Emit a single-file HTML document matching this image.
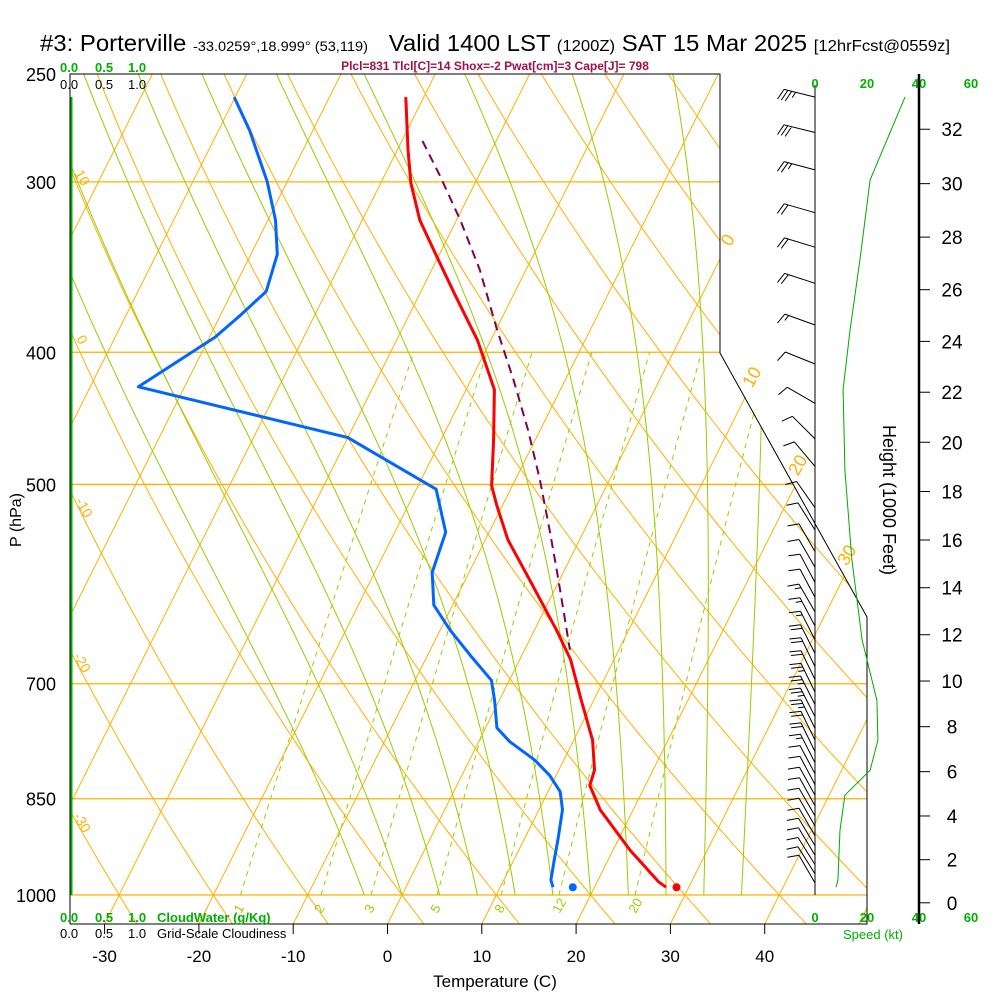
<!DOCTYPE html>
<html><head><meta charset="utf-8">
<style>
html,body{margin:0;padding:0;background:#fff;}
svg{display:block;font-family:"Liberation Sans",Arial,sans-serif;}
</style></head>
<body>
<svg id="chart" width="1000" height="1000" viewBox="0 0 1000 1000" xmlns="http://www.w3.org/2000/svg">
<defs>
<clipPath id="plotclip"><polygon points="70,74 720,74 720,353 867,617 867,924 70,924"/></clipPath>
</defs>
<g>
<text x="40" y="51" font-size="23" fill="#000" textLength="910" lengthAdjust="spacingAndGlyphs">#3: Porterville <tspan font-size="14">-33.0259°,18.999° (53,119)</tspan><tspan dx="20">Valid 1400 LST</tspan> <tspan font-size="16">(1200Z)</tspan> SAT 15 Mar 2025 <tspan font-size="16">[12hrFcst@0559z]</tspan></text>
</g>
<text x="495" y="70" font-size="12" font-weight="bold" fill="#a0104a" text-anchor="middle">Plcl=831 Tlcl[C]=14 Shox=-2 Pwat[cm]=3 Cape[J]= 798</text>
<g id="bg" clip-path="url(#plotclip)"></g>
<g id="series" clip-path="url(#plotclip)"></g>
<g id="axes"></g>
<g id="wind"></g>
</svg>
<script>
// ---- data ----
const pressureTicks = [250,300,400,500,700,850,1000];
const tempTicks = [-30,-20,-10,0,10,20,30,40];
const tempP = [260,284,300.6,320,339,363,392,426,464,501,518,549,588,639,672,720,770,810,831,866,927,978,987];
const tempT = [-41.9,-38.9,-36.8,-33.9,-30.4,-26.2,-21.4,-17.0,-14.4,-12.2,-10.6,-7.6,-3.1,2.3,5.4,8.7,12.0,13.8,14.1,16.5,21.8,26.5,27.6];
const dewP = [260,275,300,320,339,361,376,390,424,462,504,542,580,613,639,667,696,720,754,772,796,817,840,866,911,943,975,987];
const dewT = [-60.1,-56.7,-52.1,-49.2,-47.2,-46.4,-47.9,-49.4,-54.9,-30.0,-17.9,-14.6,-13.9,-12.0,-9.0,-5.5,-1.9,-0.5,1.2,3.3,6.9,9.3,11.3,12.5,13.6,14.3,15.0,15.6];
const parcelP = [280,297,320,348,385,419,456,496,540,578,618,661];
const parcelT = [-37.8,-34.1,-29.6,-24.9,-19.9,-15.5,-11.3,-7.4,-3.7,-0.8,2.0,4.8];
const sfcTempT = 28.7, sfcDewT = 17.7, sfcP = 987;
const isotherms = [-110,-100,-90,-80,-70,-60,-50,-40,-30,-20,-10,0,10,20,30,40,50];
const dryAdiabats = [-40,-30,-20,-10,0,10,20,30,40,50,60,70,80,90,100,110,120,130,140,150];
const moistAdiabats = [-4,0,4,8,12,16,20,24,28,32,36];
const mixRatios = [1,2,3,5,8,12,20];
const mixLabels = ["1","2","3","5","8","12","20"];
const heightTicks = [0,2,4,6,8,10,12,14,16,18,20,22,24,26,28,30,32];
const speedTicks = [0,20,40,60];
const speedP = [260,299,342,385,426,488,568,650,720,770,810,845,896,975,987];
const speedKt = [34.6,21.2,17.3,13.5,10.8,11.5,14.2,18.1,23.8,24.2,21.2,11.5,9.6,8.8,8.1];
const barbP = [260,276,294,316,335,356,382,408,436,463,485,520,540,560,575,590,605,620,635,650,665,680,695,710,725,740,755,770,785,800,815,830,845,860,875,890,905,920,935,950,965,980];
const barbDir = [284,284,285,286,287,288,290,292,300,315,320,325,328,330,330,332,332,330,332,333,333,334,334,334,333,333,334,334,334,333,332,332,331,331,330,330,330,329,329,328,328,330];
const barbKt = [35,30,25,22,20,18,15,12,10,10,8,8,10,10,8,10,12,14,15,16,18,20,22,23,24,24,24,22,20,15,12,10,10,10,10,10,10,9,9,9,8,8];

// ---- axis functions ----
const yP = p => 895 - 592.3*Math.log(1000/p);
const xT = (T,p) => 402 + 9.43*T + 0.5*(895 - yP(p));
const xS = kt => 815 + 2.6*kt;
const ftToP = kft => 1013.25*Math.pow(1-6.8756e-6*kft*1000,5.2559);
const NS='http://www.w3.org/2000/svg';
function mk(tag,attrs,parent){const e=document.createElementNS(NS,tag);for(const k in attrs)e.setAttribute(k,attrs[k]);parent.appendChild(e);return e;}
const bg=document.getElementById('bg'), ser=document.getElementById('series'), ax=document.getElementById('axes'), wd=document.getElementById('wind');
const OR='#ffb000', GR='#99cc00';
function pathFrom(pts){return 'M'+pts.map(q=>q[0].toFixed(1)+','+q[1].toFixed(1)).join('L');}

pressureTicks.forEach(p=>{
  const l=mk('line',{x1:70,x2:870,y1:yP(p),y2:yP(p),stroke:OR,'stroke-width':1.3},bg);
  
  
});
isotherms.forEach(T=>{
  const l=mk('line',{x1:xT(T,1050),y1:yP(1050),x2:xT(T,240),y2:yP(240),stroke:OR,'stroke-width':1},bg);
  
  
});
dryAdiabats.forEach(th=>{
  const pts=[];for(let p=1060;p>=240;p-=10){const T=(th+273.15)*Math.pow(p/1000,0.2857)-273.15;pts.push([xT(T,p),yP(p)]);}
  const e=mk('path',{d:pathFrom(pts),fill:'none',stroke:OR,'stroke-width':1},bg);
  
  
});
function es(Tk){const t=Tk-273.15;return 6.112*Math.exp(17.67*t/(t+243.5));}
moistAdiabats.forEach(tw=>{
  let T=tw+273.15;const pts=[];
  for(let p=1000;p>=240;p-=2){
    pts.push([xT(T-273.15,p),yP(p)]);
    const e=es(T),rs=0.622*e/(p-e),Lv=2.5e6,Rd=287,cp=1005;
    const dTdp=(Rd*T+Lv*rs)/(p*(cp+Lv*Lv*rs*0.622/(Rd*T*T)));
    T-=dTdp*2;
  }
  const e=mk('path',{d:pathFrom(pts),fill:'none',stroke:GR,'stroke-width':1},bg);
  
  
});
mixRatios.forEach((w,i)=>{
  const pts=[];for(let p=1000;p>=400;p-=10){const e=w*p/(622+w);const L=Math.log(e/6.112);const Td=243.5*L/(17.67-L);pts.push([xT(Td,p),yP(p)]);}
  const el=mk('path',{d:pathFrom(pts),fill:'none',stroke:GR,'stroke-width':1,'stroke-dasharray':'5,5'},bg);
  
  
  const e=w*1000/(622+w);const L=Math.log(e/6.112);const Td=243.5*L/(17.67-L);
  const t=mk('text',{x:xT(Td,1000)-3,y:916,'font-size':13,fill:GR,transform:`rotate(-60 ${xT(Td,1000)-3} 912)`},ax);
  t.textContent=mixLabels[i];
  
  
});
[[0,733,243],[10,757,380],[20,803,468],[30,852,558]].forEach(a=>{
  const t=mk('text',{x:a[1],y:a[2],'font-size':18,fill:OR,'text-anchor':'middle',transform:`rotate(-60 ${a[1]} ${a[2]})`},ax);
  t.textContent=a[0];
  
  
});
[[10,78,180],[0,78,342],[-10,80,510],[-20,78,665],[-30,78,825]].forEach(a=>{
  const t=mk('text',{x:a[1],y:a[2],'font-size':14,fill:OR,'text-anchor':'middle',transform:`rotate(60 ${a[1]} ${a[2]})`},ax);
  t.textContent=a[0];
  
  
});

function seriesLine(P,T,color,name,dash){
  const pts=P.map((p,i)=>[xT(T[i],p),yP(p)]);
  const e=mk('path',{d:pathFrom(pts),fill:'none',stroke:color,'stroke-width':dash?2:3,'stroke-linejoin':'round'},ser);
  if(dash)e.setAttribute('stroke-dasharray','9,6');
  
  
}
seriesLine(tempP,tempT,'#ff0000','temperature-line');
seriesLine(dewP,dewT,'#0066ff','dewpoint-line');
seriesLine(parcelP,parcelT,'#800050','parcel-line',true);
const d1=mk('circle',{cx:xT(sfcTempT,sfcP),cy:yP(sfcP),r:4,fill:'#ff0000'},ser);


const d2=mk('circle',{cx:xT(sfcDewT,sfcP),cy:yP(sfcP),r:4,fill:'#0066ff'},ser);


const cw=mk('line',{x1:71,x2:71,y1:97,y2:yP(1000),stroke:'#00b000','stroke-width':3},ser);



const fr=mk('polyline',{points:'70,924 70,74 720,74 720,353 867,617 867,924 70,924',fill:'none',stroke:'#000','stroke-width':1},ax);


pressureTicks.forEach(p=>{
  const t=mk('text',{x:56,y:yP(p)+7,'font-size':18,'text-anchor':'end',fill:'#000'},ax);
  t.textContent=p;
  
  
});
tempTicks.forEach(T=>{
  const x=xT(T,1000*Math.exp(29/592.3));
  const l=mk('line',{x1:x,x2:x,y1:924,y2:934,stroke:'#000'},ax);
  
  
  const t=mk('text',{x:x,y:962,'font-size':17,'text-anchor':'middle',fill:'#000'},ax);
  t.textContent=T;
  
  
});
function txt(s,attrs,name){const t=mk('text',attrs,ax);t.textContent=s;return t;}
txt('Temperature (C)',{x:495,y:987,'font-size':17,'text-anchor':'middle'},'x-axis-title');
txt('P (hPa)',{x:21,y:520,'font-size':16,'text-anchor':'middle',transform:'rotate(-90 21 520)'},'y-axis-title');
const scaleVals=['0.0','0.5','1.0'], scaleX=[60,95,128];
[[72,'#00b000','cloudwater-scale-top'],[89,'#000','cloudiness-scale-top'],[922,'#00b000','cloudwater-scale-bottom'],[938,'#000','cloudiness-scale-bottom']].forEach(r=>{
  scaleVals.forEach((v,i)=>txt(v,{x:scaleX[i],y:r[0],'font-size':13,'font-weight':r[1]=='#000'?'normal':'bold',fill:r[1]},r[2]));
});
txt('CloudWater (g/Kg)',{x:157,y:922,'font-size':13,'font-weight':'bold',fill:'#00b000'},'cloudwater-legend');
txt('Grid-Scale Cloudiness',{x:157,y:938,'font-size':13,fill:'#000'},'cloudiness-legend');

const st=mk('line',{x1:815,x2:815,y1:85,y2:yP(1000),stroke:'#000','stroke-width':1},wd);


barbP.forEach((p,i)=>{
  const y=yP(p),a=barbDir[i]*Math.PI/180,L=32;
  const ux=Math.sin(a),uy=-Math.cos(a);
  const x2=815+ux*L,y2=y+uy*L;
  let d=`M815,${y.toFixed(1)}L${x2.toFixed(1)},${y2.toFixed(1)}`;
  let s=barbKt[i],k=0;
  const fx=uy,fy=-ux;
  while(s>=7.5){const bx=x2-ux*k*4,by=y2-uy*k*4;d+=`M${bx.toFixed(1)},${by.toFixed(1)}l${(fx*11+ux*4).toFixed(1)},${(fy*11+uy*4).toFixed(1)}`;s-=10;k++;}
  if(s>=2.5){const bx=x2-ux*k*4,by=y2-uy*k*4;d+=`M${bx.toFixed(1)},${by.toFixed(1)}l${(fx*6+ux*2).toFixed(1)},${(fy*6+uy*2).toFixed(1)}`;}
  const b=mk('path',{d:d,fill:'none',stroke:'#000','stroke-width':1},wd);
  
  
});
const sp=mk('path',{d:pathFrom(speedP.map((p,i)=>[xS(speedKt[i]),yP(p)])),fill:'none',stroke:'#00aa00','stroke-width':1},wd);


speedTicks.forEach(v=>{
  [88,922].forEach(y=>{
    const t=mk('text',{x:xS(v),y:y,'font-size':13,'font-weight':'bold',fill:'#00b000','text-anchor':'middle'},wd);
    t.textContent=v;
    
    
  });
});
const sl=mk('text',{x:873,y:939,'font-size':13,fill:'#00b000','text-anchor':'middle'},wd);
sl.textContent='Speed (kt)';


const ha=mk('line',{x1:919,x2:919,y1:74,y2:924,stroke:'#000','stroke-width':2.5},wd);


heightTicks.forEach(h=>{
  const y=yP(ftToP(h));
  const l=mk('line',{x1:919,x2:930,y1:y,y2:y,stroke:'#000'},wd);
  
  
  const t=mk('text',{x:952,y:y+7,'font-size':19,'text-anchor':'middle',fill:'#000'},wd);
  t.textContent=h;
  
  
});
const ht=mk('text',{x:883,y:500,'font-size':18,'text-anchor':'middle',transform:'rotate(90 883 500)'},wd);
ht.textContent='Height (1000 Feet)';


</script>
</body></html>
